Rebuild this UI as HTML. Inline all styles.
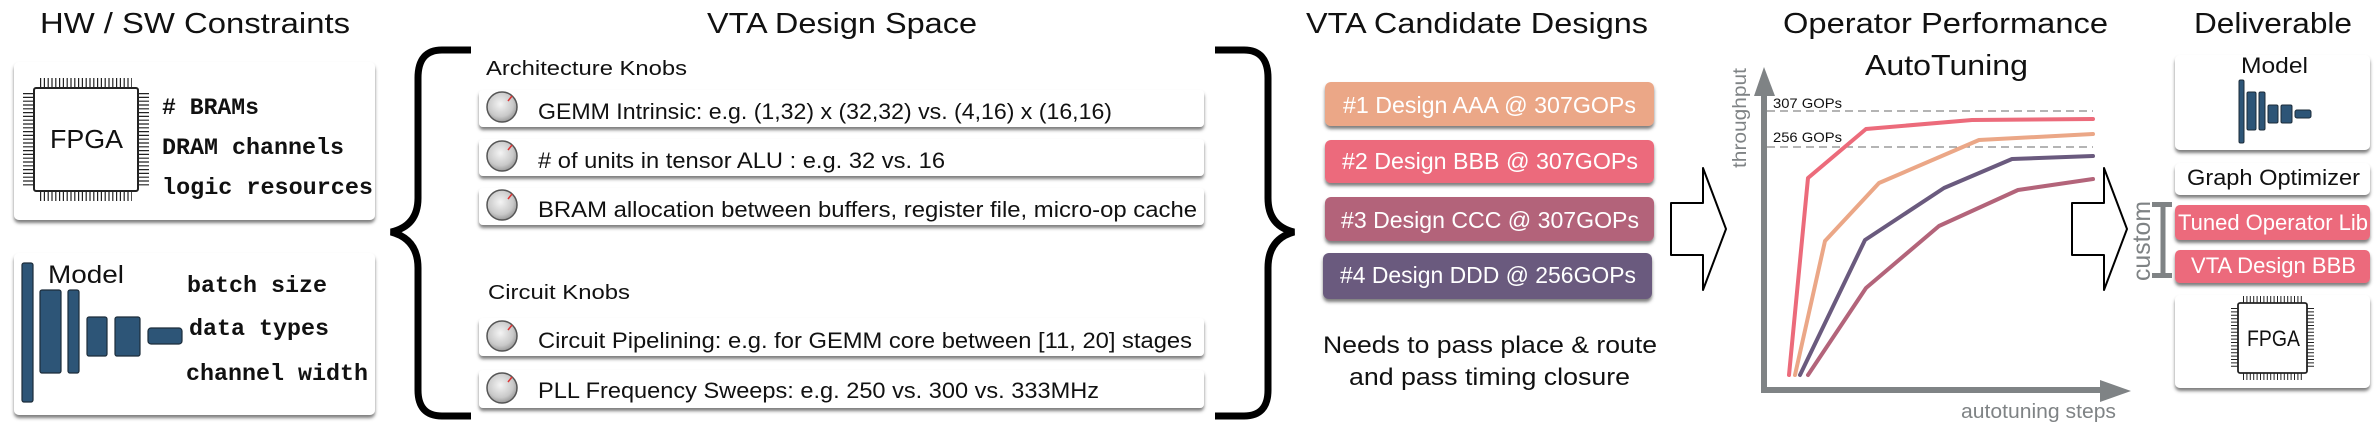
<!DOCTYPE html>
<html><head><meta charset="utf-8"><style>
html,body{margin:0;padding:0;background:#fff;}
svg{display:block;}
text{font-family:"Liberation Sans",Arial,sans-serif;fill:#111;}
.mono{font-family:"Liberation Mono",monospace;font-weight:bold;font-size:23px;}
.w{fill:#fff;}
.g{fill:#7f8385;}
</style></head><body>
<svg width="2379" height="433" viewBox="0 0 2379 433" xmlns="http://www.w3.org/2000/svg">
<defs>
<filter id="sh" x="-5%" y="-20%" width="110%" height="150%">
<feDropShadow dx="0" dy="3" stdDeviation="1.6" flood-color="#444" flood-opacity="0.7"/>
</filter>
<radialGradient id="knob" cx="45%" cy="40%" r="60%">
<stop offset="0" stop-color="#f4f4f4"/><stop offset="0.7" stop-color="#c9c9c9"/><stop offset="1" stop-color="#9a9a9a"/>
</radialGradient>
<g id="k">
<circle r="15" fill="url(#knob)" stroke="#555" stroke-width="1.5"/>
<line x1="6" y1="-6" x2="10" y2="-11" stroke="#d33" stroke-width="1.5"/>
</g>
</defs>

<!-- Titles -->
<text x="40" y="33" font-size="29" textLength="310" lengthAdjust="spacingAndGlyphs">HW / SW Constraints</text>
<text x="707" y="33" font-size="29" textLength="270" lengthAdjust="spacingAndGlyphs">VTA Design Space</text>
<text x="1306" y="33" font-size="29" textLength="342" lengthAdjust="spacingAndGlyphs">VTA Candidate Designs</text>
<text x="1783" y="33" font-size="29" textLength="325" lengthAdjust="spacingAndGlyphs">Operator Performance</text>
<text x="1865" y="75" font-size="29" textLength="163" lengthAdjust="spacingAndGlyphs">AutoTuning</text>
<text x="2194" y="33" font-size="29" textLength="158" lengthAdjust="spacingAndGlyphs">Deliverable</text>

<!-- HW/SW boxes -->
<rect x="14" y="62" width="361" height="158" rx="5" fill="#fff" filter="url(#sh)"/>
<rect x="14" y="253" width="361" height="162" rx="5" fill="#fff" filter="url(#sh)"/>

<!-- FPGA chip 1 -->
<g stroke="#222" fill="none">
<line x1="40" y1="83" x2="132" y2="83" stroke-width="10" stroke-dasharray="1.2 2.6"/>
<line x1="40" y1="196" x2="132" y2="196" stroke-width="10" stroke-dasharray="1.2 2.6"/>
<line x1="28.5" y1="93" x2="28.5" y2="186" stroke-width="11" stroke-dasharray="1.2 2.6"/>
<line x1="143.5" y1="93" x2="143.5" y2="186" stroke-width="11" stroke-dasharray="1.2 2.6"/>
<rect x="34" y="88" width="104" height="103" rx="2" fill="#fff" stroke-width="2"/>
</g>
<text x="50" y="148" font-size="26" textLength="73" lengthAdjust="spacingAndGlyphs">FPGA</text>
<text class="mono" x="162" y="114" textLength="97" lengthAdjust="spacingAndGlyphs"># BRAMs</text>
<text class="mono" x="162" y="154" textLength="182" lengthAdjust="spacingAndGlyphs">DRAM channels</text>
<text class="mono" x="162" y="194" textLength="211" lengthAdjust="spacingAndGlyphs">logic resources</text>

<!-- Model 1 -->
<g fill="#2d5577" stroke="#1c2c3a" stroke-width="1.2">
<rect x="22" y="263" width="11" height="139" rx="2"/>
<rect x="40" y="290" width="21" height="83" rx="2"/>
<rect x="68" y="290" width="11" height="83" rx="2"/>
<rect x="87" y="317" width="20" height="39" rx="2"/>
<rect x="115" y="317" width="25" height="39" rx="2"/>
<rect x="148" y="328" width="34" height="16" rx="3"/>
</g>
<text x="48" y="283" font-size="25" textLength="76" lengthAdjust="spacingAndGlyphs">Model</text>
<text class="mono" x="187" y="292" textLength="140" lengthAdjust="spacingAndGlyphs">batch size</text>
<text class="mono" x="189" y="335" textLength="140" lengthAdjust="spacingAndGlyphs">data types</text>
<text class="mono" x="186" y="380" textLength="182" lengthAdjust="spacingAndGlyphs">channel width</text>

<!-- Braces -->
<path d="M471,50 L442,50 Q418,50 418,78 L418,198 Q418,226 391,232 Q418,239 418,268 L418,390 Q418,416 442,416 L471,416" fill="none" stroke="#000" stroke-width="7"/>
<path d="M1215,50 L1244,50 Q1268,50 1268,78 L1268,198 Q1268,226 1294,232 Q1268,239 1268,268 L1268,390 Q1268,416 1244,416 L1215,416" fill="none" stroke="#000" stroke-width="7"/>

<!-- Design space -->
<text x="486" y="75" font-size="20" textLength="201" lengthAdjust="spacingAndGlyphs">Architecture Knobs</text>
<text x="488" y="299" font-size="20" textLength="142" lengthAdjust="spacingAndGlyphs">Circuit Knobs</text>
<g filter="url(#sh)" fill="#fff">
<rect x="479" y="90" width="725" height="37" rx="4"/>
<rect x="479" y="139" width="725" height="37" rx="4"/>
<rect x="479" y="188" width="725" height="37" rx="4"/>
<rect x="479" y="318" width="725" height="38" rx="4"/>
<rect x="479" y="370" width="725" height="38" rx="4"/>
</g>
<use href="#k" x="502" y="107"/>
<use href="#k" x="502" y="156"/>
<use href="#k" x="502" y="205"/>
<use href="#k" x="502" y="336"/>
<use href="#k" x="502" y="388"/>
<text x="538" y="119" font-size="22" textLength="574" lengthAdjust="spacingAndGlyphs">GEMM Intrinsic: e.g. (1,32) x (32,32) vs. (4,16) x (16,16)</text>
<text x="538" y="168" font-size="22" textLength="407" lengthAdjust="spacingAndGlyphs"># of units in tensor ALU : e.g. 32 vs. 16</text>
<text x="538" y="217" font-size="22" textLength="659" lengthAdjust="spacingAndGlyphs">BRAM allocation between buffers, register file, micro-op cache</text>
<text x="538" y="348" font-size="22" textLength="654" lengthAdjust="spacingAndGlyphs">Circuit Pipelining: e.g. for GEMM core between [11, 20] stages</text>
<text x="538" y="398" font-size="22" textLength="561" lengthAdjust="spacingAndGlyphs">PLL Frequency Sweeps: e.g. 250 vs. 300 vs. 333MHz</text>

<!-- Candidates -->
<g filter="url(#sh)">
<rect x="1325" y="82" width="329" height="44" rx="6" fill="#eba787"/>
<rect x="1325" y="140" width="329" height="43" rx="6" fill="#ec6b7b"/>
<rect x="1325" y="197" width="329" height="44" rx="6" fill="#b3647a"/>
<rect x="1323" y="253" width="329" height="46" rx="6" fill="#6a5a7e"/>
</g>
<text class="w" x="1343" y="113" font-size="23" textLength="293" lengthAdjust="spacingAndGlyphs">#1 Design AAA @ 307GOPs</text>
<text class="w" x="1342" y="169" font-size="23" textLength="296" lengthAdjust="spacingAndGlyphs">#2 Design BBB @ 307GOPs</text>
<text class="w" x="1341" y="228" font-size="23" textLength="298" lengthAdjust="spacingAndGlyphs">#3 Design CCC @ 307GOPs</text>
<text class="w" x="1340" y="283" font-size="23" textLength="296" lengthAdjust="spacingAndGlyphs">#4 Design DDD @ 256GOPs</text>
<text x="1323" y="353" font-size="24" textLength="334" lengthAdjust="spacingAndGlyphs">Needs to pass place &amp; route</text>
<text x="1349" y="385" font-size="24" textLength="281" lengthAdjust="spacingAndGlyphs">and pass timing closure</text>

<!-- Arrows -->
<path d="M1671,203 L1703,203 L1703,168 L1726,229 L1703,290 L1703,255 L1671,255 Z" fill="#fff" stroke="#000" stroke-width="2" stroke-linejoin="round"/>
<path d="M2072,203 L2104,203 L2104,168 L2127,229 L2104,290 L2104,255 L2072,255 Z" fill="#fff" stroke="#000" stroke-width="2" stroke-linejoin="round"/>

<!-- Chart -->
<g stroke="#888" stroke-width="1.3" stroke-dasharray="8 5">
<line x1="1767" y1="111" x2="2093" y2="111"/>
<line x1="1767" y1="147" x2="2093" y2="147"/>
</g>
<text x="1773" y="108" font-size="14" textLength="69" lengthAdjust="spacingAndGlyphs">307 GOPs</text>
<text x="1773" y="142" font-size="14" textLength="69" lengthAdjust="spacingAndGlyphs">256 GOPs</text>
<line x1="1764" y1="92" x2="1764" y2="393" stroke="#7f8385" stroke-width="6"/>
<line x1="1761" y1="390" x2="2102" y2="390" stroke="#7f8385" stroke-width="6"/>
<path d="M1754,96 L1764,67 L1775,96 Z" fill="#7f8385"/>
<path d="M2100,380 L2131,391 L2100,402 Z" fill="#7f8385"/>
<text class="g" transform="translate(1746,168) rotate(-90)" font-size="19" textLength="100" lengthAdjust="spacingAndGlyphs">throughput</text>
<text class="g" x="1961" y="418" font-size="20" textLength="155" lengthAdjust="spacingAndGlyphs">autotuning steps</text>
<g fill="none" stroke-width="4" stroke-linejoin="round" stroke-linecap="round">
<polyline stroke="#ec6b7b" points="1789,375 1808,178 1866,129 1972,120 2093,119"/>
<polyline stroke="#eba787" points="1795,375 1825,241 1879,183 1979,140 2093,134"/>
<polyline stroke="#6a5a7e" points="1800,375 1865,240 1944,188 2012,159 2093,156"/>
<polyline stroke="#b3647a" points="1808,375 1866,288 1939,226 2018,190 2093,179"/>
</g>

<!-- custom bar -->
<text class="g" transform="translate(2150,281) rotate(-90)" font-size="25" textLength="80" lengthAdjust="spacingAndGlyphs">custom</text>
<g stroke="#7f8385" stroke-width="5">
<line x1="2163" y1="203" x2="2163" y2="277"/>
<line x1="2152" y1="204.5" x2="2172" y2="204.5"/>
<line x1="2152" y1="275.5" x2="2172" y2="275.5"/>
</g>

<!-- Deliverable -->
<g filter="url(#sh)">
<rect x="2175" y="55" width="195" height="95" rx="5" fill="#fff"/>
<rect x="2175" y="163" width="195" height="32" rx="5" fill="#fff"/>
<rect x="2175" y="205" width="195" height="35" rx="5" fill="#ec6b7b"/>
<rect x="2175" y="250" width="195" height="33" rx="5" fill="#ec6b7b"/>
<rect x="2175" y="295" width="195" height="93" rx="5" fill="#fff"/>
</g>
<text x="2241" y="73" font-size="22" textLength="67" lengthAdjust="spacingAndGlyphs">Model</text>
<g fill="#2d5577" stroke="#1c2c3a" stroke-width="1">
<rect x="2239" y="80" width="5" height="63" rx="1.5"/>
<rect x="2247" y="92" width="9" height="38" rx="1.5"/>
<rect x="2259" y="92" width="6" height="38" rx="1.5"/>
<rect x="2268" y="105" width="10" height="18" rx="1.5"/>
<rect x="2281" y="105" width="11" height="18" rx="1.5"/>
<rect x="2295" y="110" width="16" height="8" rx="2"/>
</g>
<text x="2187" y="185" font-size="22" textLength="173" lengthAdjust="spacingAndGlyphs">Graph Optimizer</text>
<text class="w" x="2178" y="230" font-size="22" textLength="190" lengthAdjust="spacingAndGlyphs">Tuned Operator Lib</text>
<text class="w" x="2191" y="273" font-size="22" textLength="165" lengthAdjust="spacingAndGlyphs">VTA Design BBB</text>
<g stroke="#222" fill="none">
<line x1="2243" y1="299.5" x2="2302" y2="299.5" stroke-width="7" stroke-dasharray="1 2.4"/>
<line x1="2243" y1="376.5" x2="2302" y2="376.5" stroke-width="7" stroke-dasharray="1 2.4"/>
<line x1="2234.5" y1="308" x2="2234.5" y2="368" stroke-width="7" stroke-dasharray="1 2.4"/>
<line x1="2310.5" y1="308" x2="2310.5" y2="368" stroke-width="7" stroke-dasharray="1 2.4"/>
<rect x="2238" y="303" width="69" height="70" rx="2" fill="#fff" stroke-width="1.8"/>
</g>
<text x="2247" y="346" font-size="22" textLength="53" lengthAdjust="spacingAndGlyphs">FPGA</text>
</svg>
</body></html>
